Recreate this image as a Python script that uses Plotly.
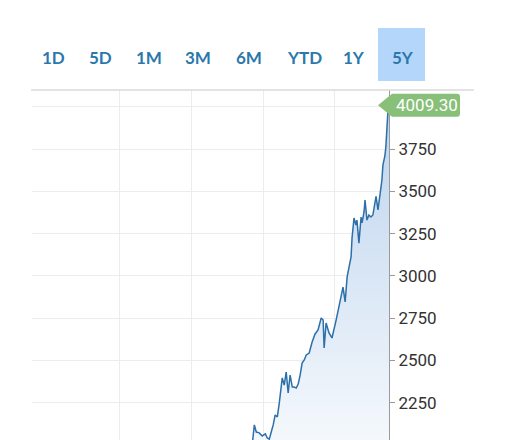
import plotly.graph_objects as go

# price series (dates + closing values; early points sit below the visible window)
dates = [
    '2015-10-13', '2016-06-01', '2017-03-01', '2017-11-01', '2018-06-01', '2018-10-22',
    '2018-11-07', '2018-11-17', '2018-11-27', '2018-12-12', '2018-12-27', '2019-01-12',
    '2019-01-22', '2019-02-01', '2019-02-11', '2019-02-21', '2019-03-03', '2019-03-14',
    '2019-03-24', '2019-04-03', '2019-04-08', '2019-04-18', '2019-04-28', '2019-05-08',
    '2019-05-18', '2019-05-29', '2019-06-08', '2019-06-18', '2019-06-28', '2019-07-08',
    '2019-07-18', '2019-07-29', '2019-08-08', '2019-08-23', '2019-09-07', '2019-09-22',
    '2019-10-07', '2019-10-23', '2019-11-02', '2019-11-07', '2019-11-17', '2019-12-02',
    '2019-12-17', '2020-01-07', '2020-01-22', '2020-02-01', '2020-02-11', '2020-02-22',
    '2020-03-03', '2020-03-13', '2020-03-23', '2020-03-28', '2020-04-07', '2020-04-17',
    '2020-04-22', '2020-05-02', '2020-05-13', '2020-05-18', '2020-05-28', '2020-06-02',
    '2020-06-12', '2020-06-22', '2020-07-02', '2020-07-12', '2020-07-17', '2020-07-28',
    '2020-08-07', '2020-08-17', '2020-08-27', '2020-09-01', '2020-09-11', '2020-09-16',
    '2020-09-21', '2020-09-26', '2020-10-02',
]
prices = [
    1500, 1600, 1720, 1820, 1900, 1960,
    2010, 2119, 2077, 2072, 2054, 2066,
    2042, 2035, 2077, 2119, 2178, 2166,
    2249, 2343, 2397, 2355, 2432, 2308,
    2414, 2343, 2343, 2337, 2361, 2414,
    2485, 2503, 2533, 2544, 2609, 2657,
    2680, 2751, 2739, 2574, 2722, 2663,
    2633, 2739, 2816, 2887, 2934, 2846,
    2994, 3053, 3112, 3224, 3342, 3301,
    3330, 3194, 3348, 3313, 3378, 3449,
    3330, 3360, 3348, 3360, 3400, 3470,
    3390, 3480, 3567, 3655, 3709, 3762,
    3880, 3963, 4009.30,
]

ranges = ['1D', '5D', '1M', '3M', '6M', 'YTD', '1Y', '5Y']
selected_range = '5Y'
y_ticks = [2000, 2250, 2500, 2750, 3000, 3250, 3500, 3750, 4000]
year_lines = ['2017-01-01', '2018-01-01', '2019-01-01', '2020-01-01']
last_price = prices[-1]

# page puts the plot 8px in from the top-left corner
OFF = 8
W, H = 505, 440
ML, MR, MT, MB = 32 - OFF, 505 - (389 - OFF), 90 - OFF, OFF
PW, PH = W - ML - MR, H - MT - MB


def px_x(px):
    # screen x -> paper x
    return (px - OFF - ML) / PW


def px_y(py):
    # screen y -> paper y
    return (H - MB - (py - OFF)) / PH


BLUE_TXT = '#2c78ab'
GRID = '#ececec'

fig = go.Figure()
fig.add_trace(go.Scatter(
    x=dates, y=prices, mode='lines',
    line=dict(color='#2d6fa8', width=1.5),
    fill='tozeroy',
    fillgradient=dict(type='vertical', colorscale=[[0, '#f4f8fc'], [1, '#bdd4ee']],
                      start=2030, stop=4009),
    hoverinfo='skip', showlegend=False,
))

# range buttons across the top
btn_centers = [53, 100.5, 149, 197.5, 249, 304.5, 354, 402.5]
for label, cx in zip(ranges, btn_centers):
    if label == selected_range:
        fig.add_shape(type='rect', xref='paper', yref='paper',
                      x0=px_x(378), x1=px_x(425), y0=px_y(81), y1=px_y(28),
                      fillcolor='#b4d6fb', line_width=0, layer='below')
    fig.add_annotation(text=label, xref='paper', yref='paper', x=px_x(cx), y=px_y(57.5),
                       showarrow=False, xanchor='center', yanchor='middle',
                       font=dict(family='Lato', size=17, color=BLUE_TXT, weight=700))

# top border
fig.add_shape(type='line', xref='paper', yref='paper', x0=px_x(31), x1=px_x(474),
              y0=1, y1=1, line=dict(color='#dadada', width=1.5))

# last price tag
fig.add_shape(type='path', xref='paper', yref='y', xsizemode='pixel', ysizemode='pixel',
              xanchor=1, yanchor=last_price,
              path='M-11,0 L3,-11.5 L68,-11.5 Q71,-11.5 71,-8.5 L71,8.5 Q71,11.5 68,11.5 L3,11.5 Z',
              fillcolor='#88c07a', line_width=0, layer='above')
fig.add_annotation(text=f'{last_price:.2f}', xref='paper', yref='y', x=1, y=last_price,
                   xanchor='left', yanchor='middle', xshift=5, showarrow=False,
                   font=dict(family='Roboto', size=17, color='white'))

# partly visible bottom label
fig.add_annotation(text='2000', xref='paper', yref='y', x=1, y=2000, xanchor='left',
                   yanchor='middle', xshift=8, showarrow=False,
                   font=dict(family='Roboto', size=17, color='#333333'))

fig.update_layout(
    width=W, height=H,
    margin=dict(l=ML, r=MR, t=MT, b=MB, pad=0),
    paper_bgcolor='white', plot_bgcolor='white',
    hovermode=False,
    xaxis=dict(type='date', range=['2015-10-13', '2020-10-02'],
               tickvals=year_lines, showticklabels=False, ticks='',
               showgrid=True, gridcolor=GRID, gridwidth=1,
               showline=False, zeroline=False, fixedrange=True),
    yaxis=dict(side='right', range=[2030, 4099],
               tickvals=y_ticks, ticktext=['' if v == 4000 else str(v) for v in y_ticks],
               showgrid=True, gridcolor=GRID, gridwidth=1,
               showline=True, linecolor='#9a9a9a', linewidth=1,
               ticks='outside', ticklen=5, tickcolor='#9a9a9a',
               tickfont=dict(family='Roboto', size=17, color='#333333'),
               zeroline=False, fixedrange=True),
)

fig.write_html('out.html', config={'displayModeBar': False})
